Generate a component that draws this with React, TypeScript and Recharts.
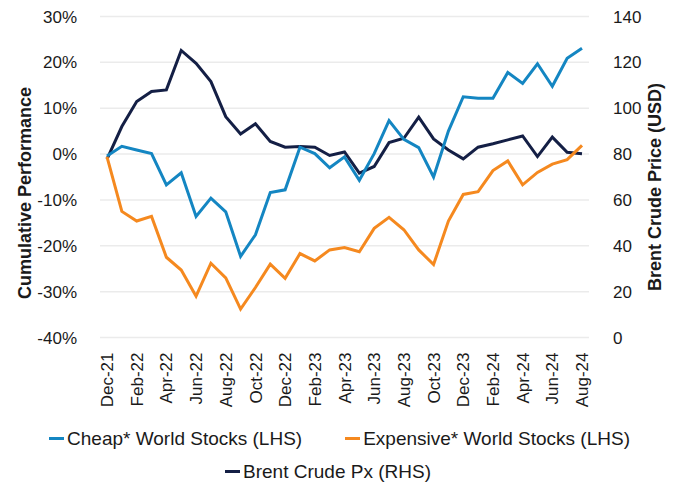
import React from 'react';
import { LineChart, Line, XAxis, YAxis, CartesianGrid, Legend } from 'recharts';

const months = [
  'Dec-21', 'Jan-22', 'Feb-22', 'Mar-22', 'Apr-22', 'May-22', 'Jun-22', 'Jul-22', 'Aug-22', 'Sep-22', 'Oct-22', 'Nov-22',
  'Dec-22', 'Jan-23', 'Feb-23', 'Mar-23', 'Apr-23', 'May-23', 'Jun-23', 'Jul-23', 'Aug-23', 'Sep-23', 'Oct-23', 'Nov-23',
  'Dec-23', 'Jan-24', 'Feb-24', 'Mar-24', 'Apr-24', 'May-24', 'Jun-24', 'Jul-24', 'Aug-24',
];

const cheap = [
  -0.4, 1.7, 0.9, 0.1, -6.7, -4.1, -13.6, -9.6, -12.6, -22.3, -17.6, -8.4, -7.8, 1.5, 0.1, -3.0, -0.6,
  -5.7, 0.1, 7.3, 3.2, 1.4, -5.0, 5.0, 12.5, 12.2, 12.2, 17.8, 15.4, 19.7, 14.8, 20.9, 23.1,
];

const expensive = [
  -0.6, -12.5, -14.6, -13.6, -22.5, -25.3, -31.0, -23.8, -27.0, -33.8, -29.1, -24.0, -27.1, -21.7, -23.3, -20.9, -20.4,
  -21.3, -16.2, -13.8, -16.5, -20.9, -24.1, -14.6, -8.8, -8.2, -3.6, -1.5, -6.7, -4.0, -2.2, -1.2, 1.9,
];

const brent = [
  77.8, 92.0, 102.9, 107.3, 108.0, 125.2, 119.6, 111.6, 96.3, 88.8, 93.2, 85.5, 83.0, 83.3, 83.0, 79.4, 80.9,
  71.7, 74.6, 85.0, 86.9, 96.1, 86.6, 81.8, 77.9, 83.0, 84.5, 86.2, 87.9, 78.9, 87.4, 80.8, 80.1,
];

const leftTicks = [-40, -30, -20, -10, 0, 10, 20, 30];
const rightTicks = [0, 20, 40, 60, 80, 100, 120, 140];

const seriesNames = {
  cheap: 'Cheap* World Stocks (LHS)',
  expensive: 'Expensive* World Stocks (LHS)',
  brent: 'Brent Crude Px (RHS)',
};

const COLORS = { cheap: '#1486c2', expensive: '#f5891f', brent: '#141f45' };
const FONT = "'Liberation Sans', Arial, sans-serif";
const TEXT = '#1a1a1a';

const data = months.map((m, i) => ({ month: m, cheap: cheap[i], expensive: expensive[i], brent: brent[i] }));

const XTick = (props: any) => {
  const { x, y, payload } = props;
  const ty = y + 7;
  return (
    <text
      x={x}
      y={ty}
      transform={`rotate(-90, ${x}, ${ty})`}
      textAnchor="end"
      dy="0.36em"
      fontSize={17}
      fontFamily={FONT}
      fill={TEXT}
    >
      {payload.value}
    </text>
  );
};

const AxisTitle = (props: any) => {
  const { px, py, text } = props;
  return (
    <text
      x={px}
      y={py}
      transform={`rotate(-90, ${px}, ${py})`}
      textAnchor="middle"
      dominantBaseline="central"
      fontSize={18}
      fontWeight="bold"
      fontFamily={FONT}
      fill={TEXT}
    >
      {text}
    </text>
  );
};

const LegendItem = ({ color, label }: { color: string; label: string }) => (
  <span style={{ display: 'inline-flex', alignItems: 'center' }}>
    <span style={{ display: 'inline-block', width: 15, height: 3, background: color, marginRight: 3 }} />
    <span>{label}</span>
  </span>
);

const CustomLegend = () => (
  <div style={{ width: 676, fontFamily: FONT, fontSize: 19, color: TEXT, lineHeight: '33px' }}>
    <div style={{ display: 'flex', justifyContent: 'center', gap: 43, paddingLeft: 3 }}>
      <LegendItem color={COLORS.cheap} label={seriesNames.cheap} />
      <LegendItem color={COLORS.expensive} label={seriesNames.expensive} />
    </div>
    <div style={{ display: 'flex', justifyContent: 'center', paddingRight: 20 }}>
      <LegendItem color={COLORS.brent} label={seriesNames.brent} />
    </div>
  </div>
);

export default function App() {
  return (
    <div style={{ position: 'absolute', left: 0, top: 0, width: 676, height: 485, background: '#fff' }}>
      <LineChart width={676} height={485} data={data} margin={{ top: 16.5, right: 0, left: 0, bottom: 67.5 }}>
        <CartesianGrid yAxisId="left" vertical={false} stroke="#ebebeb" strokeWidth={1.5} />
        <XAxis
          dataKey="month"
          interval={1}
          height={80}
          axisLine={false}
          tickLine={false}
          padding={{ left: 7, right: 7 }}
          tick={<XTick />}
        />
        <YAxis
          yAxisId="left"
          orientation="left"
          width={100}
          domain={[-40, 30]}
          ticks={leftTicks}
          tickFormatter={(v: number) => `${v}%`}
          axisLine={false}
          tickLine={false}
          tickMargin={17}
          tick={{ fontSize: 17, fontFamily: FONT, fill: TEXT }}
          label={<AxisTitle px={25} py={193} text="Cumulative Performance" />}
        />
        <YAxis
          yAxisId="right"
          orientation="right"
          width={87}
          domain={[0, 140]}
          ticks={rightTicks}
          axisLine={false}
          tickLine={false}
          tickMargin={18}
          tick={{ fontSize: 17, fontFamily: FONT, fill: TEXT, textAnchor: 'start' }}
          label={<AxisTitle px={655} py={187} text="Brent Crude Price (USD)" />}
        />
        <Line yAxisId="right" type="linear" dataKey="brent" name={seriesNames.brent} stroke={COLORS.brent} strokeWidth={3} dot={false} isAnimationActive={false} />
        <Line yAxisId="left" type="linear" dataKey="cheap" name={seriesNames.cheap} stroke={COLORS.cheap} strokeWidth={3} dot={false} isAnimationActive={false} />
        <Line yAxisId="left" type="linear" dataKey="expensive" name={seriesNames.expensive} stroke={COLORS.expensive} strokeWidth={3} dot={false} isAnimationActive={false} />
        <Legend
          layout="horizontal"
          verticalAlign="middle"
          align="center"
          wrapperStyle={{ top: 422, left: 0, width: 676 }}
          content={<CustomLegend />}
        />
      </LineChart>
    </div>
  );
}
